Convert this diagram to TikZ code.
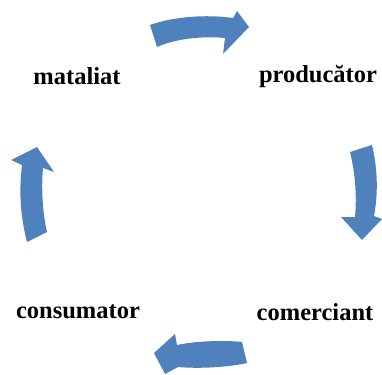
\documentclass[tikz,border=0pt]{standalone}
\usepackage{fontspec}
\setmainfont{Liberation Serif}
\definecolor{arrowblue}{HTML}{4F81BD}
\begin{document}
\begin{tikzpicture}[x=1pt,y=-1pt,
  lbl/.style={font=\fontsize{24.5}{27}\selectfont\bfseries, inner sep=0pt, text=black},
  cyclearrow/.style={fill=arrowblue, draw=none}]
\useasboundingbox (0,0) rectangle (382,374);
% labels
\node[lbl] (mataliat) at (77,76) {mataliat};
\node[lbl] (producator) at (318,76) {producător};
\node[lbl] (comerciant) at (315,312) {comerciant};
\node[lbl] (consumator) at (78,312) {consumator};
% top arrow (pointing right)
\fill[cyclearrow] (150,25) .. controls (172,17) and (205,14) .. (233,18)
  -- (237,11) -- (249,27) -- (223,54) -- (225,38)
  .. controls (205,36) and (177,38) .. (157,47) -- cycle;
% right arrow (pointing down)
\fill[cyclearrow] (350,152) -- (372,145)
  .. controls (378,170) and (378,195) .. (374,216)
  -- (382,219) -- (362,240) -- (341,217) -- (355,217)
  .. controls (357,195) and (355,172) .. (350,152) -- cycle;
% bottom arrow (pointing left)
\fill[cyclearrow] (242,342) .. controls (225,340) and (195,341) .. (177,345)
  -- (175,334) -- (154,353) -- (165,374) -- (178,367)
  .. controls (200,369) and (230,367) .. (247,363) -- cycle;
% left arrow (pointing up)
\fill[cyclearrow] (27,242) .. controls (20,215) and (19,190) .. (22,165)
  -- (11,160) -- (37,147) -- (54,172) -- (43,168)
  .. controls (41,190) and (43,215) .. (47,232) -- cycle;
\end{tikzpicture}
\end{document}
